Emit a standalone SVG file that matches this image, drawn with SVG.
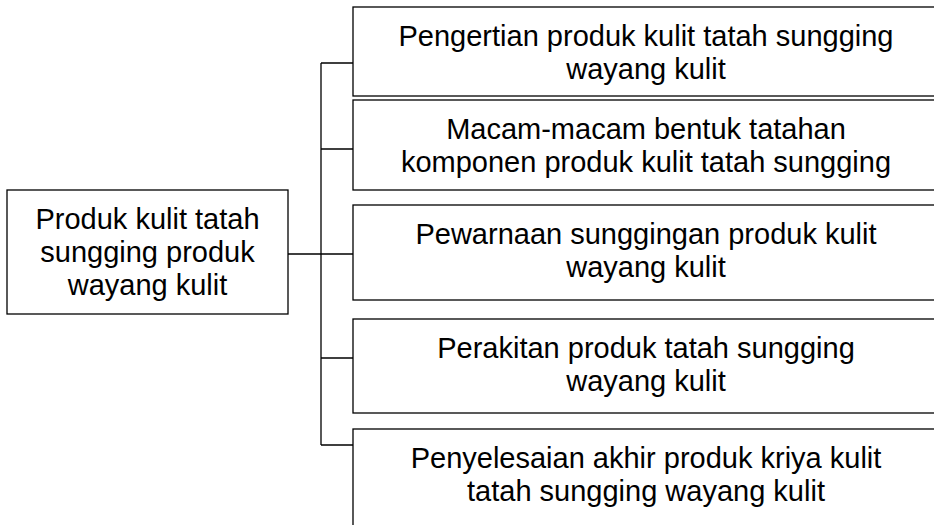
<svg xmlns="http://www.w3.org/2000/svg" width="934" height="525" viewBox="0 0 934 525">
<style>
.box{fill:#fff;stroke:#000;stroke-width:1.3}
.t{font-family:"Liberation Sans",Arial,sans-serif;font-size:29px;fill:#000;text-anchor:middle}
.c{fill:none;stroke:#000;stroke-width:1.3}
</style>
<rect width="934" height="525" fill="#fff"/>
<g id="connectors">
<path class="c" d="M288 254H353M321 63V445M321 63H353M321 149H353M321 358H353M321 445H353"/>
</g>
<g id="root">
<rect class="box" x="7" y="190" width="281" height="124"/>
<text class="t" x="147.5" y="229">Produk kulit tatah</text>
<text class="t" x="147.5" y="262">sungging produk</text>
<text class="t" x="147.5" y="295">wayang kulit</text>
</g>
<g id="n1">
<rect class="box" x="353" y="7" width="586" height="89"/>
<text class="t" x="646" y="46">Pengertian produk kulit tatah sungging</text>
<text class="t" x="646" y="79">wayang kulit</text>
</g>
<g id="n2">
<rect class="box" x="353" y="100" width="586" height="90"/>
<text class="t" x="646" y="139">Macam-macam bentuk tatahan</text>
<text class="t" x="646" y="172">komponen produk kulit tatah sungging</text>
</g>
<g id="n3">
<rect class="box" x="353" y="205" width="586" height="95"/>
<text class="t" x="646" y="244">Pewarnaan sunggingan produk kulit</text>
<text class="t" x="646" y="277">wayang kulit</text>
</g>
<g id="n4">
<rect class="box" x="353" y="319" width="586" height="94"/>
<text class="t" x="646" y="358">Perakitan produk tatah sungging</text>
<text class="t" x="646" y="391">wayang kulit</text>
</g>
<g id="n5">
<rect class="box" x="353" y="429" width="586" height="110"/>
<text class="t" x="646" y="468">Penyelesaian akhir produk kriya kulit</text>
<text class="t" x="646" y="501">tatah sungging wayang kulit</text>
</g>
</svg>
